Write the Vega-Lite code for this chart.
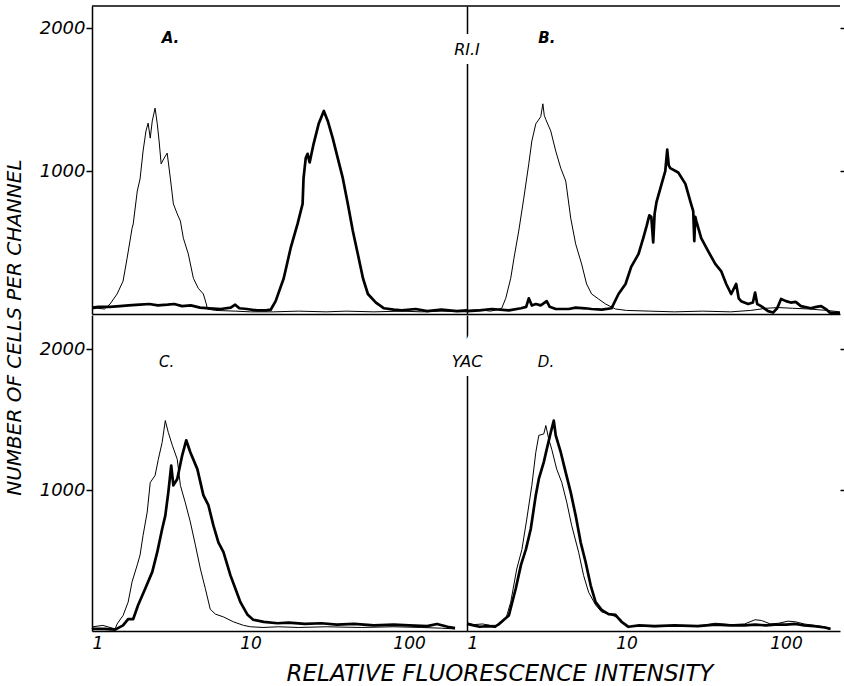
{
  "$schema": "https://vega.github.io/schema/vega-lite/v6.json",
  "background": "white",
  "padding": 5,
  "config": {
    "view": {"stroke": null},
    "font": "DejaVu Sans",
    "axis": {"grid": false, "domainColor": "black", "domainWidth": 1.5, "tickColor": "black", "tickWidth": 1.5, "labelColor": "black", "labelFont": "DejaVu Sans", "labelFontStyle": "italic", "labelFontSize": 17, "titleFont": "DejaVu Sans"}
  },
  "datasets": {
    "hist": [
      {"panel":"A","series":"control","x":1.0,"y":35},{"panel":"A","series":"control","x":1.08,"y":40},{"panel":"A","series":"control","x":1.2,"y":35},{"panel":"A","series":"control","x":1.3,"y":70},{"panel":"A","series":"control","x":1.44,"y":140},{"panel":"A","series":"control","x":1.57,"y":230},{"panel":"A","series":"control","x":1.665,"y":390},{"panel":"A","series":"control","x":1.79,"y":600},{"panel":"A","series":"control","x":1.82,"y":630},{"panel":"A","series":"control","x":1.93,"y":860},{"panel":"A","series":"control","x":2.01,"y":945},{"panel":"A","series":"control","x":2.1,"y":1140},{"panel":"A","series":"control","x":2.19,"y":1280},{"panel":"A","series":"control","x":2.26,"y":1335},{"panel":"A","series":"control","x":2.33,"y":1230},{"panel":"A","series":"control","x":2.4,"y":1350},{"panel":"A","series":"control","x":2.5,"y":1440},{"panel":"A","series":"control","x":2.58,"y":1330},{"panel":"A","series":"control","x":2.65,"y":1210},{"panel":"A","series":"control","x":2.73,"y":1050},{"panel":"A","series":"control","x":2.85,"y":1090},{"panel":"A","series":"control","x":2.98,"y":1125},{"panel":"A","series":"control","x":3.12,"y":950},{"panel":"A","series":"control","x":3.26,"y":770},{"panel":"A","series":"control","x":3.45,"y":700},{"panel":"A","series":"control","x":3.61,"y":650},{"panel":"A","series":"control","x":3.77,"y":530},{"panel":"A","series":"control","x":4.05,"y":420},{"panel":"A","series":"control","x":4.36,"y":250},{"panel":"A","series":"control","x":4.68,"y":180},{"panel":"A","series":"control","x":5.04,"y":140},{"panel":"A","series":"control","x":5.26,"y":70},{"panel":"A","series":"control","x":5.34,"y":35},{"panel":"A","series":"control","x":6,"y":25},{"panel":"A","series":"control","x":8,"y":20},{"panel":"A","series":"control","x":10,"y":15},{"panel":"A","series":"control","x":14,"y":15},{"panel":"A","series":"control","x":20,"y":20},{"panel":"A","series":"control","x":30,"y":15},{"panel":"A","series":"control","x":40,"y":20},{"panel":"A","series":"control","x":60,"y":15},{"panel":"A","series":"control","x":90,"y":20},{"panel":"A","series":"control","x":120,"y":15},{"panel":"A","series":"control","x":160,"y":20},{"panel":"A","series":"control","x":232,"y":15},
      {"panel":"A","series":"stained","x":1,"y":45},{"panel":"A","series":"stained","x":1.1,"y":50},{"panel":"A","series":"stained","x":1.3,"y":50},{"panel":"A","series":"stained","x":1.5,"y":55},{"panel":"A","series":"stained","x":1.7,"y":60},{"panel":"A","series":"stained","x":2,"y":65},{"panel":"A","series":"stained","x":2.3,"y":70},{"panel":"A","series":"stained","x":2.6,"y":60},{"panel":"A","series":"stained","x":3,"y":65},{"panel":"A","series":"stained","x":3.3,"y":70},{"panel":"A","series":"stained","x":3.7,"y":55},{"panel":"A","series":"stained","x":4.2,"y":60},{"panel":"A","series":"stained","x":4.8,"y":45},{"panel":"A","series":"stained","x":5.5,"y":40},{"panel":"A","series":"stained","x":6.5,"y":35},{"panel":"A","series":"stained","x":7.5,"y":45},{"panel":"A","series":"stained","x":8,"y":65},{"panel":"A","series":"stained","x":8.5,"y":40},{"panel":"A","series":"stained","x":9.5,"y":35},{"panel":"A","series":"stained","x":11,"y":25},{"panel":"A","series":"stained","x":12.5,"y":25},{"panel":"A","series":"stained","x":13.4,"y":30},{"panel":"A","series":"stained","x":14.4,"y":90},{"panel":"A","series":"stained","x":16.2,"y":250},{"panel":"A","series":"stained","x":17.9,"y":460},{"panel":"A","series":"stained","x":19.8,"y":630},{"panel":"A","series":"stained","x":21.3,"y":770},{"panel":"A","series":"stained","x":21.6,"y":950},{"panel":"A","series":"stained","x":22.3,"y":1090},{"panel":"A","series":"stained","x":22.9,"y":1120},{"panel":"A","series":"stained","x":23.6,"y":1060},{"panel":"A","series":"stained","x":25,"y":1190},{"panel":"A","series":"stained","x":26.9,"y":1330},{"panel":"A","series":"stained","x":29,"y":1420},{"panel":"A","series":"stained","x":30.7,"y":1350},{"panel":"A","series":"stained","x":33,"y":1230},{"panel":"A","series":"stained","x":35.5,"y":1090},{"panel":"A","series":"stained","x":38.2,"y":950},{"panel":"A","series":"stained","x":41.1,"y":770},{"panel":"A","series":"stained","x":44.2,"y":580},{"panel":"A","series":"stained","x":47.5,"y":420},{"panel":"A","series":"stained","x":51.2,"y":250},{"panel":"A","series":"stained","x":55,"y":140},{"panel":"A","series":"stained","x":61.8,"y":80},{"panel":"A","series":"stained","x":69.5,"y":40},{"panel":"A","series":"stained","x":80,"y":30},{"panel":"A","series":"stained","x":90,"y":25},{"panel":"A","series":"stained","x":110,"y":35},{"panel":"A","series":"stained","x":130,"y":20},{"panel":"A","series":"stained","x":160,"y":30},{"panel":"A","series":"stained","x":200,"y":20},{"panel":"A","series":"stained","x":232,"y":25},
      {"panel":"B","series":"control","x":1.0,"y":25},{"panel":"B","series":"control","x":1.2,"y":30},{"panel":"B","series":"control","x":1.4,"y":20},{"panel":"B","series":"control","x":1.55,"y":30},{"panel":"B","series":"control","x":1.65,"y":40},{"panel":"B","series":"control","x":1.75,"y":110},{"panel":"B","series":"control","x":1.88,"y":250},{"panel":"B","series":"control","x":1.97,"y":390},{"panel":"B","series":"control","x":2.11,"y":580},{"panel":"B","series":"control","x":2.27,"y":810},{"panel":"B","series":"control","x":2.44,"y":1050},{"panel":"B","series":"control","x":2.55,"y":1210},{"panel":"B","series":"control","x":2.7,"y":1330},{"panel":"B","series":"control","x":2.9,"y":1380},{"panel":"B","series":"control","x":2.99,"y":1470},{"panel":"B","series":"control","x":3.05,"y":1390},{"panel":"B","series":"control","x":3.12,"y":1360},{"panel":"B","series":"control","x":3.35,"y":1280},{"panel":"B","series":"control","x":3.6,"y":1140},{"panel":"B","series":"control","x":3.87,"y":1020},{"panel":"B","series":"control","x":4.16,"y":930},{"panel":"B","series":"control","x":4.47,"y":670},{"panel":"B","series":"control","x":4.8,"y":490},{"panel":"B","series":"control","x":5.23,"y":350},{"panel":"B","series":"control","x":5.62,"y":210},{"panel":"B","series":"control","x":6.04,"y":140},{"panel":"B","series":"control","x":6.68,"y":105},{"panel":"B","series":"control","x":7.39,"y":70},{"panel":"B","series":"control","x":8.53,"y":35},{"panel":"B","series":"control","x":10,"y":25},{"panel":"B","series":"control","x":14,"y":20},{"panel":"B","series":"control","x":20,"y":15},{"panel":"B","series":"control","x":30,"y":20},{"panel":"B","series":"control","x":45,"y":15},{"panel":"B","series":"control","x":60,"y":25},{"panel":"B","series":"control","x":75,"y":40},{"panel":"B","series":"control","x":90,"y":45},{"panel":"B","series":"control","x":110,"y":40},{"panel":"B","series":"control","x":140,"y":35},{"panel":"B","series":"control","x":180,"y":25},{"panel":"B","series":"control","x":218,"y":15},
      {"panel":"B","series":"stained","x":1.0,"y":20},{"panel":"B","series":"stained","x":1.2,"y":25},{"panel":"B","series":"stained","x":1.43,"y":35},{"panel":"B","series":"stained","x":1.83,"y":25},{"panel":"B","series":"stained","x":2.18,"y":40},{"panel":"B","series":"stained","x":2.35,"y":50},{"panel":"B","series":"stained","x":2.44,"y":110},{"panel":"B","series":"stained","x":2.55,"y":60},{"panel":"B","series":"stained","x":2.7,"y":70},{"panel":"B","series":"stained","x":2.9,"y":60},{"panel":"B","series":"stained","x":3.16,"y":90},{"panel":"B","series":"stained","x":3.3,"y":50},{"panel":"B","series":"stained","x":3.6,"y":35},{"panel":"B","series":"stained","x":4.34,"y":35},{"panel":"B","series":"stained","x":4.8,"y":45},{"panel":"B","series":"stained","x":5.5,"y":40},{"panel":"B","series":"stained","x":6.04,"y":35},{"panel":"B","series":"stained","x":7,"y":30},{"panel":"B","series":"stained","x":8.05,"y":40},{"panel":"B","series":"stained","x":8.91,"y":140},{"panel":"B","series":"stained","x":9.86,"y":210},{"panel":"B","series":"stained","x":10.7,"y":330},{"panel":"B","series":"stained","x":11.9,"y":420},{"panel":"B","series":"stained","x":12.8,"y":540},{"panel":"B","series":"stained","x":13.4,"y":620},{"panel":"B","series":"stained","x":13.9,"y":690},{"panel":"B","series":"stained","x":14.3,"y":680},{"panel":"B","series":"stained","x":14.7,"y":500},{"panel":"B","series":"stained","x":15.0,"y":700},{"panel":"B","series":"stained","x":15.4,"y":780},{"panel":"B","series":"stained","x":16.6,"y":910},{"panel":"B","series":"stained","x":17.5,"y":1000},{"panel":"B","series":"stained","x":18.0,"y":1150},{"panel":"B","series":"stained","x":18.4,"y":1040},{"panel":"B","series":"stained","x":18.8,"y":1020},{"panel":"B","series":"stained","x":21.1,"y":990},{"panel":"B","series":"stained","x":23.4,"y":910},{"panel":"B","series":"stained","x":25.1,"y":790},{"panel":"B","series":"stained","x":26.2,"y":720},{"panel":"B","series":"stained","x":26.6,"y":510},{"panel":"B","series":"stained","x":27.0,"y":680},{"panel":"B","series":"stained","x":27.4,"y":650},{"panel":"B","series":"stained","x":29.4,"y":530},{"panel":"B","series":"stained","x":32.5,"y":440},{"panel":"B","series":"stained","x":36.0,"y":350},{"panel":"B","series":"stained","x":39.2,"y":300},{"panel":"B","series":"stained","x":42.2,"y":210},{"panel":"B","series":"stained","x":45.3,"y":140},{"panel":"B","series":"stained","x":48.7,"y":210},{"panel":"B","series":"stained","x":50.5,"y":110},{"panel":"B","series":"stained","x":52.3,"y":90},{"panel":"B","series":"stained","x":57.9,"y":70},{"panel":"B","series":"stained","x":62,"y":80},{"panel":"B","series":"stained","x":64,"y":150},{"panel":"B","series":"stained","x":66,"y":70},{"panel":"B","series":"stained","x":69.8,"y":55},{"panel":"B","series":"stained","x":77.2,"y":20},{"panel":"B","series":"stained","x":83,"y":10},{"panel":"B","series":"stained","x":88,"y":40},{"panel":"B","series":"stained","x":93.1,"y":105},{"panel":"B","series":"stained","x":100,"y":90},{"panel":"B","series":"stained","x":107,"y":80},{"panel":"B","series":"stained","x":115,"y":85},{"panel":"B","series":"stained","x":124,"y":55},{"panel":"B","series":"stained","x":143,"y":40},{"panel":"B","series":"stained","x":155,"y":50},{"panel":"B","series":"stained","x":166,"y":55},{"panel":"B","series":"stained","x":180,"y":30},{"panel":"B","series":"stained","x":188,"y":10},{"panel":"B","series":"stained","x":218,"y":5},
      {"panel":"C","series":"control","x":1.0,"y":15},{"panel":"C","series":"control","x":1.015,"y":30},{"panel":"C","series":"control","x":1.17,"y":40},{"panel":"C","series":"control","x":1.3,"y":25},{"panel":"C","series":"control","x":1.4,"y":15},{"panel":"C","series":"control","x":1.44,"y":50},{"panel":"C","series":"control","x":1.57,"y":110},{"panel":"C","series":"control","x":1.69,"y":205},{"panel":"C","series":"control","x":1.79,"y":350},{"panel":"C","series":"control","x":1.93,"y":470},{"panel":"C","series":"control","x":2.01,"y":540},{"panel":"C","series":"control","x":2.1,"y":680},{"panel":"C","series":"control","x":2.23,"y":845},{"panel":"C","series":"control","x":2.33,"y":1055},{"panel":"C","series":"control","x":2.5,"y":1105},{"panel":"C","series":"control","x":2.62,"y":1220},{"panel":"C","series":"control","x":2.77,"y":1340},{"panel":"C","series":"control","x":2.9,"y":1495},{"panel":"C","series":"control","x":3.03,"y":1410},{"panel":"C","series":"control","x":3.21,"y":1320},{"panel":"C","series":"control","x":3.45,"y":1220},{"panel":"C","series":"control","x":3.61,"y":1035},{"panel":"C","series":"control","x":3.87,"y":915},{"panel":"C","series":"control","x":4.17,"y":775},{"panel":"C","series":"control","x":4.49,"y":610},{"panel":"C","series":"control","x":4.83,"y":440},{"panel":"C","series":"control","x":5.19,"y":300},{"panel":"C","series":"control","x":5.57,"y":155},{"panel":"C","series":"control","x":6.0,"y":120},{"panel":"C","series":"control","x":6.75,"y":100},{"panel":"C","series":"control","x":7.81,"y":65},{"panel":"C","series":"control","x":9.03,"y":40},{"panel":"C","series":"control","x":10,"y":30},{"panel":"C","series":"control","x":12,"y":25},{"panel":"C","series":"control","x":15,"y":30},{"panel":"C","series":"control","x":20,"y":25},{"panel":"C","series":"control","x":30,"y":30},{"panel":"C","series":"control","x":50,"y":25},{"panel":"C","series":"control","x":80,"y":30},{"panel":"C","series":"control","x":120,"y":25},{"panel":"C","series":"control","x":160,"y":20},{"panel":"C","series":"control","x":195,"y":15},
      {"panel":"C","series":"stained","x":1.0,"y":15},{"panel":"C","series":"stained","x":1.2,"y":15},{"panel":"C","series":"stained","x":1.4,"y":10},{"panel":"C","series":"stained","x":1.57,"y":40},{"panel":"C","series":"stained","x":1.69,"y":85},{"panel":"C","series":"stained","x":1.82,"y":85},{"panel":"C","series":"stained","x":1.955,"y":185},{"panel":"C","series":"stained","x":2.165,"y":300},{"panel":"C","series":"stained","x":2.4,"y":420},{"panel":"C","series":"stained","x":2.58,"y":560},{"panel":"C","series":"stained","x":2.77,"y":725},{"panel":"C","series":"stained","x":2.9,"y":820},{"panel":"C","series":"stained","x":3.03,"y":985},{"panel":"C","series":"stained","x":3.16,"y":1175},{"panel":"C","series":"stained","x":3.26,"y":1035},{"panel":"C","series":"stained","x":3.45,"y":1080},{"panel":"C","series":"stained","x":3.71,"y":1250},{"panel":"C","series":"stained","x":3.93,"y":1355},{"panel":"C","series":"stained","x":4.17,"y":1270},{"panel":"C","series":"stained","x":4.62,"y":1150},{"panel":"C","series":"stained","x":5.04,"y":965},{"panel":"C","series":"stained","x":5.42,"y":895},{"panel":"C","series":"stained","x":5.83,"y":750},{"panel":"C","series":"stained","x":6.27,"y":630},{"panel":"C","series":"stained","x":6.75,"y":560},{"panel":"C","series":"stained","x":7.47,"y":395},{"panel":"C","series":"stained","x":8.03,"y":300},{"panel":"C","series":"stained","x":8.63,"y":205},{"panel":"C","series":"stained","x":9.58,"y":115},{"panel":"C","series":"stained","x":10.4,"y":80},{"panel":"C","series":"stained","x":12.1,"y":65},{"panel":"C","series":"stained","x":14.8,"y":55},{"panel":"C","series":"stained","x":17.4,"y":60},{"panel":"C","series":"stained","x":22,"y":50},{"panel":"C","series":"stained","x":28,"y":55},{"panel":"C","series":"stained","x":35,"y":45},{"panel":"C","series":"stained","x":45,"y":50},{"panel":"C","series":"stained","x":60,"y":40},{"panel":"C","series":"stained","x":80,"y":45},{"panel":"C","series":"stained","x":100,"y":40},{"panel":"C","series":"stained","x":130,"y":35},{"panel":"C","series":"stained","x":150,"y":50},{"panel":"C","series":"stained","x":175,"y":30},{"panel":"C","series":"stained","x":195,"y":20},
      {"panel":"D","series":"control","x":1.0,"y":60},{"panel":"D","series":"control","x":1.1,"y":45},{"panel":"D","series":"control","x":1.25,"y":50},{"panel":"D","series":"control","x":1.4,"y":40},{"panel":"D","series":"control","x":1.585,"y":40},{"panel":"D","series":"control","x":1.75,"y":85},{"panel":"D","series":"control","x":1.88,"y":205},{"panel":"D","series":"control","x":2.05,"y":440},{"panel":"D","series":"control","x":2.21,"y":580},{"panel":"D","series":"control","x":2.37,"y":795},{"panel":"D","series":"control","x":2.55,"y":1035},{"panel":"D","series":"control","x":2.7,"y":1270},{"panel":"D","series":"control","x":2.82,"y":1390},{"panel":"D","series":"control","x":3.03,"y":1400},{"panel":"D","series":"control","x":3.12,"y":1460},{"panel":"D","series":"control","x":3.26,"y":1360},{"panel":"D","series":"control","x":3.4,"y":1290},{"panel":"D","series":"control","x":3.65,"y":1150},{"panel":"D","series":"control","x":3.93,"y":1055},{"panel":"D","series":"control","x":4.22,"y":915},{"panel":"D","series":"control","x":4.53,"y":750},{"panel":"D","series":"control","x":5.01,"y":560},{"panel":"D","series":"control","x":5.38,"y":395},{"panel":"D","series":"control","x":5.79,"y":275},{"panel":"D","series":"control","x":6.4,"y":185},{"panel":"D","series":"control","x":6.98,"y":135},{"panel":"D","series":"control","x":8.05,"y":115},{"panel":"D","series":"control","x":9.17,"y":85},{"panel":"D","series":"control","x":10,"y":30},{"panel":"D","series":"control","x":12,"y":35},{"panel":"D","series":"control","x":15,"y":30},{"panel":"D","series":"control","x":20,"y":35},{"panel":"D","series":"control","x":30,"y":40},{"panel":"D","series":"control","x":36,"y":55},{"panel":"D","series":"control","x":45,"y":45},{"panel":"D","series":"control","x":55,"y":50},{"panel":"D","series":"control","x":64,"y":80},{"panel":"D","series":"control","x":70,"y":75},{"panel":"D","series":"control","x":80,"y":50},{"panel":"D","series":"control","x":90,"y":55},{"panel":"D","series":"control","x":103,"y":70},{"panel":"D","series":"control","x":115,"y":65},{"panel":"D","series":"control","x":130,"y":50},{"panel":"D","series":"control","x":150,"y":40},{"panel":"D","series":"control","x":175,"y":30},{"panel":"D","series":"control","x":190,"y":15},
      {"panel":"D","series":"stained","x":1.0,"y":50},{"panel":"D","series":"stained","x":1.1,"y":40},{"panel":"D","series":"stained","x":1.2,"y":30},{"panel":"D","series":"stained","x":1.35,"y":35},{"panel":"D","series":"stained","x":1.5,"y":30},{"panel":"D","series":"stained","x":1.585,"y":50},{"panel":"D","series":"stained","x":1.83,"y":110},{"panel":"D","series":"stained","x":2.02,"y":300},{"panel":"D","series":"stained","x":2.18,"y":470},{"panel":"D","series":"stained","x":2.34,"y":580},{"panel":"D","series":"stained","x":2.51,"y":725},{"panel":"D","series":"stained","x":2.7,"y":965},{"panel":"D","series":"stained","x":2.82,"y":1080},{"panel":"D","series":"stained","x":3.03,"y":1200},{"panel":"D","series":"stained","x":3.16,"y":1290},{"panel":"D","series":"stained","x":3.35,"y":1410},{"panel":"D","series":"stained","x":3.5,"y":1495},{"panel":"D","series":"stained","x":3.6,"y":1390},{"panel":"D","series":"stained","x":3.87,"y":1270},{"panel":"D","series":"stained","x":4.16,"y":1125},{"panel":"D","series":"stained","x":4.47,"y":985},{"panel":"D","series":"stained","x":4.8,"y":820},{"panel":"D","series":"stained","x":5.16,"y":630},{"panel":"D","series":"stained","x":5.54,"y":490},{"panel":"D","series":"stained","x":5.96,"y":325},{"panel":"D","series":"stained","x":6.4,"y":205},{"panel":"D","series":"stained","x":6.98,"y":150},{"panel":"D","series":"stained","x":7.72,"y":120},{"panel":"D","series":"stained","x":8.53,"y":115},{"panel":"D","series":"stained","x":9.31,"y":65},{"panel":"D","series":"stained","x":10.3,"y":30},{"panel":"D","series":"stained","x":12,"y":40},{"panel":"D","series":"stained","x":15,"y":35},{"panel":"D","series":"stained","x":20,"y":40},{"panel":"D","series":"stained","x":28,"y":35},{"panel":"D","series":"stained","x":36,"y":45},{"panel":"D","series":"stained","x":45,"y":40},{"panel":"D","series":"stained","x":55,"y":40},{"panel":"D","series":"stained","x":64,"y":45},{"panel":"D","series":"stained","x":75,"y":40},{"panel":"D","series":"stained","x":85,"y":45},{"panel":"D","series":"stained","x":100,"y":45},{"panel":"D","series":"stained","x":115,"y":50},{"panel":"D","series":"stained","x":130,"y":40},{"panel":"D","series":"stained","x":150,"y":35},{"panel":"D","series":"stained","x":175,"y":25},{"panel":"D","series":"stained","x":190,"y":15}
    ],
    "labels": [
      {"panel":"A","label":"A."},{"panel":"B","label":"B."},{"panel":"C","label":"C."},{"panel":"D","label":"D."}
    ],
    "cells": [
      {"panel":"B","label":"RI.I"},{"panel":"D","label":"YAC"}
    ]
  },
  "title": {"text": "NUMBER OF CELLS PER CHANNEL", "orient": "left", "anchor": "middle", "font": "DejaVu Sans", "fontSize": 20, "fontStyle": "italic", "fontWeight": "normal", "color": "black", "offset": 14, "dx": 18},
  "spacing": 0,
  "vconcat": [
    {
      "spacing": 0,
      "bounds": "flush",
      "hconcat": [
        {
          "width": 375, "height": 308,
          "layer": [
            {
              "data": {"name": "hist"},
              "transform": [{"filter": "datum.panel === 'A'"}],
              "mark": {"type": "line", "color": "black", "strokeJoin": "round"},
              "encoding": {
                "x": {"field": "x", "type": "quantitative", "scale": {"type": "log", "domain": [1, 232], "nice": false}, "axis": {"values": [1, 10, 100], "labels": false, "ticks": false, "title": null}},
                "y": {"field": "y", "type": "quantitative", "scale": {"domain": [0, 2154], "nice": false}, "axis": {"values": [1000, 2000], "format": "d", "title": null, "tickSize": 6, "labelPadding": 1, "labelFontSize": 18}},
                "strokeWidth": {"field": "series", "type": "nominal", "scale": {"domain": ["control", "stained"], "range": [1, 2.7]}, "legend": null}
              }
            },
            {
              "data": {"values": [{}]},
              "mark": {"type": "rule", "color": "black", "strokeWidth": 1.5},
              "encoding": {"y": {"datum": 2154, "type": "quantitative"}}
            },
            {
              "data": {"name": "labels"},
              "transform": [{"filter": "datum.panel === 'A'"}],
              "mark": {"type": "text", "align": "left", "baseline": "middle", "fontSize": 15, "fontWeight": "bold", "fontStyle": "italic", "font": "DejaVu Sans", "color": "black"},
              "encoding": {"x": {"datum": 2.75, "type": "quantitative"}, "y": {"datum": 1930, "type": "quantitative"}, "text": {"field": "label"}}
            }
          ]
        },
        {
          "width": 373, "height": 308,
          "resolve": {"axis": {"y": "independent"}},
          "layer": [
            {
              "data": {"name": "hist"},
              "transform": [{"filter": "datum.panel === 'B'"}],
              "mark": {"type": "line", "color": "black", "strokeJoin": "round"},
              "encoding": {
                "x": {"field": "x", "type": "quantitative", "scale": {"type": "log", "domain": [1, 218], "nice": false}, "axis": {"values": [1, 10, 100], "labels": false, "ticks": false, "title": null}},
                "y": {"field": "y", "type": "quantitative", "scale": {"domain": [0, 2154], "nice": false}, "axis": {"labels": false, "ticks": false, "title": null}},
                "strokeWidth": {"field": "series", "type": "nominal", "scale": {"domain": ["control", "stained"], "range": [1, 2.7]}, "legend": null}
              }
            },
            {
              "data": {"values": [{}]},
              "mark": {"type": "rule", "color": "black", "strokeWidth": 1.5},
              "encoding": {"y": {"datum": 2154, "type": "quantitative", "scale": {"domain": [0, 2154], "nice": false}, "axis": {"orient": "right", "values": [1000, 2000], "labels": false, "domain": false, "tickSize": 4, "title": null}}}
            },
            {
              "data": {"name": "labels"},
              "transform": [{"filter": "datum.panel === 'B'"}],
              "mark": {"type": "text", "align": "left", "baseline": "middle", "fontSize": 15, "fontWeight": "bold", "fontStyle": "italic", "font": "DejaVu Sans", "color": "black"},
              "encoding": {"x": {"datum": 2.8, "type": "quantitative"}, "y": {"datum": 1930, "type": "quantitative", "scale": {"domain": [0, 2154], "nice": false}, "axis": null}, "text": {"field": "label"}}
            },
            {
              "data": {"name": "cells"},
              "transform": [{"filter": "datum.panel === 'B'"}],
              "mark": {"type": "text", "align": "center", "baseline": "middle", "fontSize": 16, "fontStyle": "italic", "font": "DejaVu Sans", "color": "white", "stroke": "white", "strokeWidth": 18},
              "encoding": {"x": {"datum": 1, "type": "quantitative"}, "y": {"datum": 1846, "type": "quantitative", "scale": {"domain": [0, 2154], "nice": false}, "axis": null}, "text": {"field": "label"}}
            },
            {
              "data": {"name": "cells"},
              "transform": [{"filter": "datum.panel === 'B'"}],
              "mark": {"type": "text", "align": "center", "baseline": "middle", "fontSize": 16, "fontStyle": "italic", "font": "DejaVu Sans", "color": "black"},
              "encoding": {"x": {"datum": 1, "type": "quantitative"}, "y": {"datum": 1846, "type": "quantitative", "scale": {"domain": [0, 2154], "nice": false}, "axis": null}, "text": {"field": "label"}}
            }
          ]
        }
      ]
    },
    {
      "spacing": 0,
      "bounds": "flush",
      "title": {"text": "RELATIVE FLUORESCENCE INTENSITY", "orient": "bottom", "anchor": "middle", "font": "DejaVu Sans", "fontSize": 23, "fontStyle": "italic", "fontWeight": "normal", "color": "black", "offset": 12, "dx": 58},
      "hconcat": [
        {
          "width": 375, "height": 316,
          "layer": [
            {
              "data": {"name": "hist"},
              "transform": [{"filter": "datum.panel === 'C'"}],
              "mark": {"type": "line", "color": "black", "strokeJoin": "round"},
              "encoding": {
                "x": {"field": "x", "type": "quantitative", "scale": {"type": "log", "domain": [1, 232], "nice": false}, "axis": {"values": [1, 10, 100], "format": "d", "ticks": false, "labelPadding": 4, "title": null}},
                "y": {"field": "y", "type": "quantitative", "scale": {"domain": [0, 2245], "nice": false}, "axis": {"values": [1000, 2000], "format": "d", "title": null, "tickSize": 6, "labelPadding": 1, "labelFontSize": 18}},
                "strokeWidth": {"field": "series", "type": "nominal", "scale": {"domain": ["control", "stained"], "range": [1, 2.7]}, "legend": null}
              }
            },
            {
              "data": {"name": "labels"},
              "transform": [{"filter": "datum.panel === 'C'"}],
              "mark": {"type": "text", "align": "left", "baseline": "middle", "fontSize": 15, "fontStyle": "italic", "font": "DejaVu Sans", "color": "black"},
              "encoding": {"x": {"datum": 2.65, "type": "quantitative"}, "y": {"datum": 1908, "type": "quantitative"}, "text": {"field": "label"}}
            }
          ]
        },
        {
          "width": 373, "height": 316,
          "resolve": {"axis": {"y": "independent"}},
          "layer": [
            {
              "data": {"name": "hist"},
              "transform": [{"filter": "datum.panel === 'D'"}],
              "mark": {"type": "line", "color": "black", "strokeJoin": "round"},
              "encoding": {
                "x": {"field": "x", "type": "quantitative", "scale": {"type": "log", "domain": [1, 218], "nice": false}, "axis": {"values": [1, 10, 100], "format": "d", "ticks": false, "labelPadding": 4, "title": null}},
                "y": {"field": "y", "type": "quantitative", "scale": {"domain": [0, 2245], "nice": false}, "axis": {"labels": false, "ticks": false, "title": null}},
                "strokeWidth": {"field": "series", "type": "nominal", "scale": {"domain": ["control", "stained"], "range": [1, 2.7]}, "legend": null}
              }
            },
            {
              "data": {"name": "labels"},
              "transform": [{"filter": "datum.panel === 'D'"}],
              "mark": {"type": "text", "align": "left", "baseline": "middle", "fontSize": 15, "fontStyle": "italic", "font": "DejaVu Sans", "color": "black"},
              "encoding": {"x": {"datum": 2.78, "type": "quantitative"}, "y": {"datum": 1908, "type": "quantitative", "scale": {"domain": [0, 2245], "nice": false}, "axis": {"orient": "right", "values": [1000, 2000], "labels": false, "domain": false, "tickSize": 4, "title": null}}, "text": {"field": "label"}}
            },
            {
              "data": {"name": "cells"},
              "transform": [{"filter": "datum.panel === 'D'"}],
              "mark": {"type": "text", "align": "center", "baseline": "middle", "fontSize": 16, "fontStyle": "italic", "font": "DejaVu Sans", "color": "white", "stroke": "white", "strokeWidth": 18},
              "encoding": {"x": {"datum": 1, "type": "quantitative"}, "y": {"datum": 1908, "type": "quantitative", "scale": {"domain": [0, 2245], "nice": false}, "axis": null}, "text": {"field": "label"}}
            },
            {
              "data": {"name": "cells"},
              "transform": [{"filter": "datum.panel === 'D'"}],
              "mark": {"type": "text", "align": "center", "baseline": "middle", "fontSize": 16, "fontStyle": "italic", "font": "DejaVu Sans", "color": "black"},
              "encoding": {"x": {"datum": 1, "type": "quantitative"}, "y": {"datum": 1908, "type": "quantitative", "scale": {"domain": [0, 2245], "nice": false}, "axis": null}, "text": {"field": "label"}}
            }
          ]
        }
      ]
    }
  ]
}
